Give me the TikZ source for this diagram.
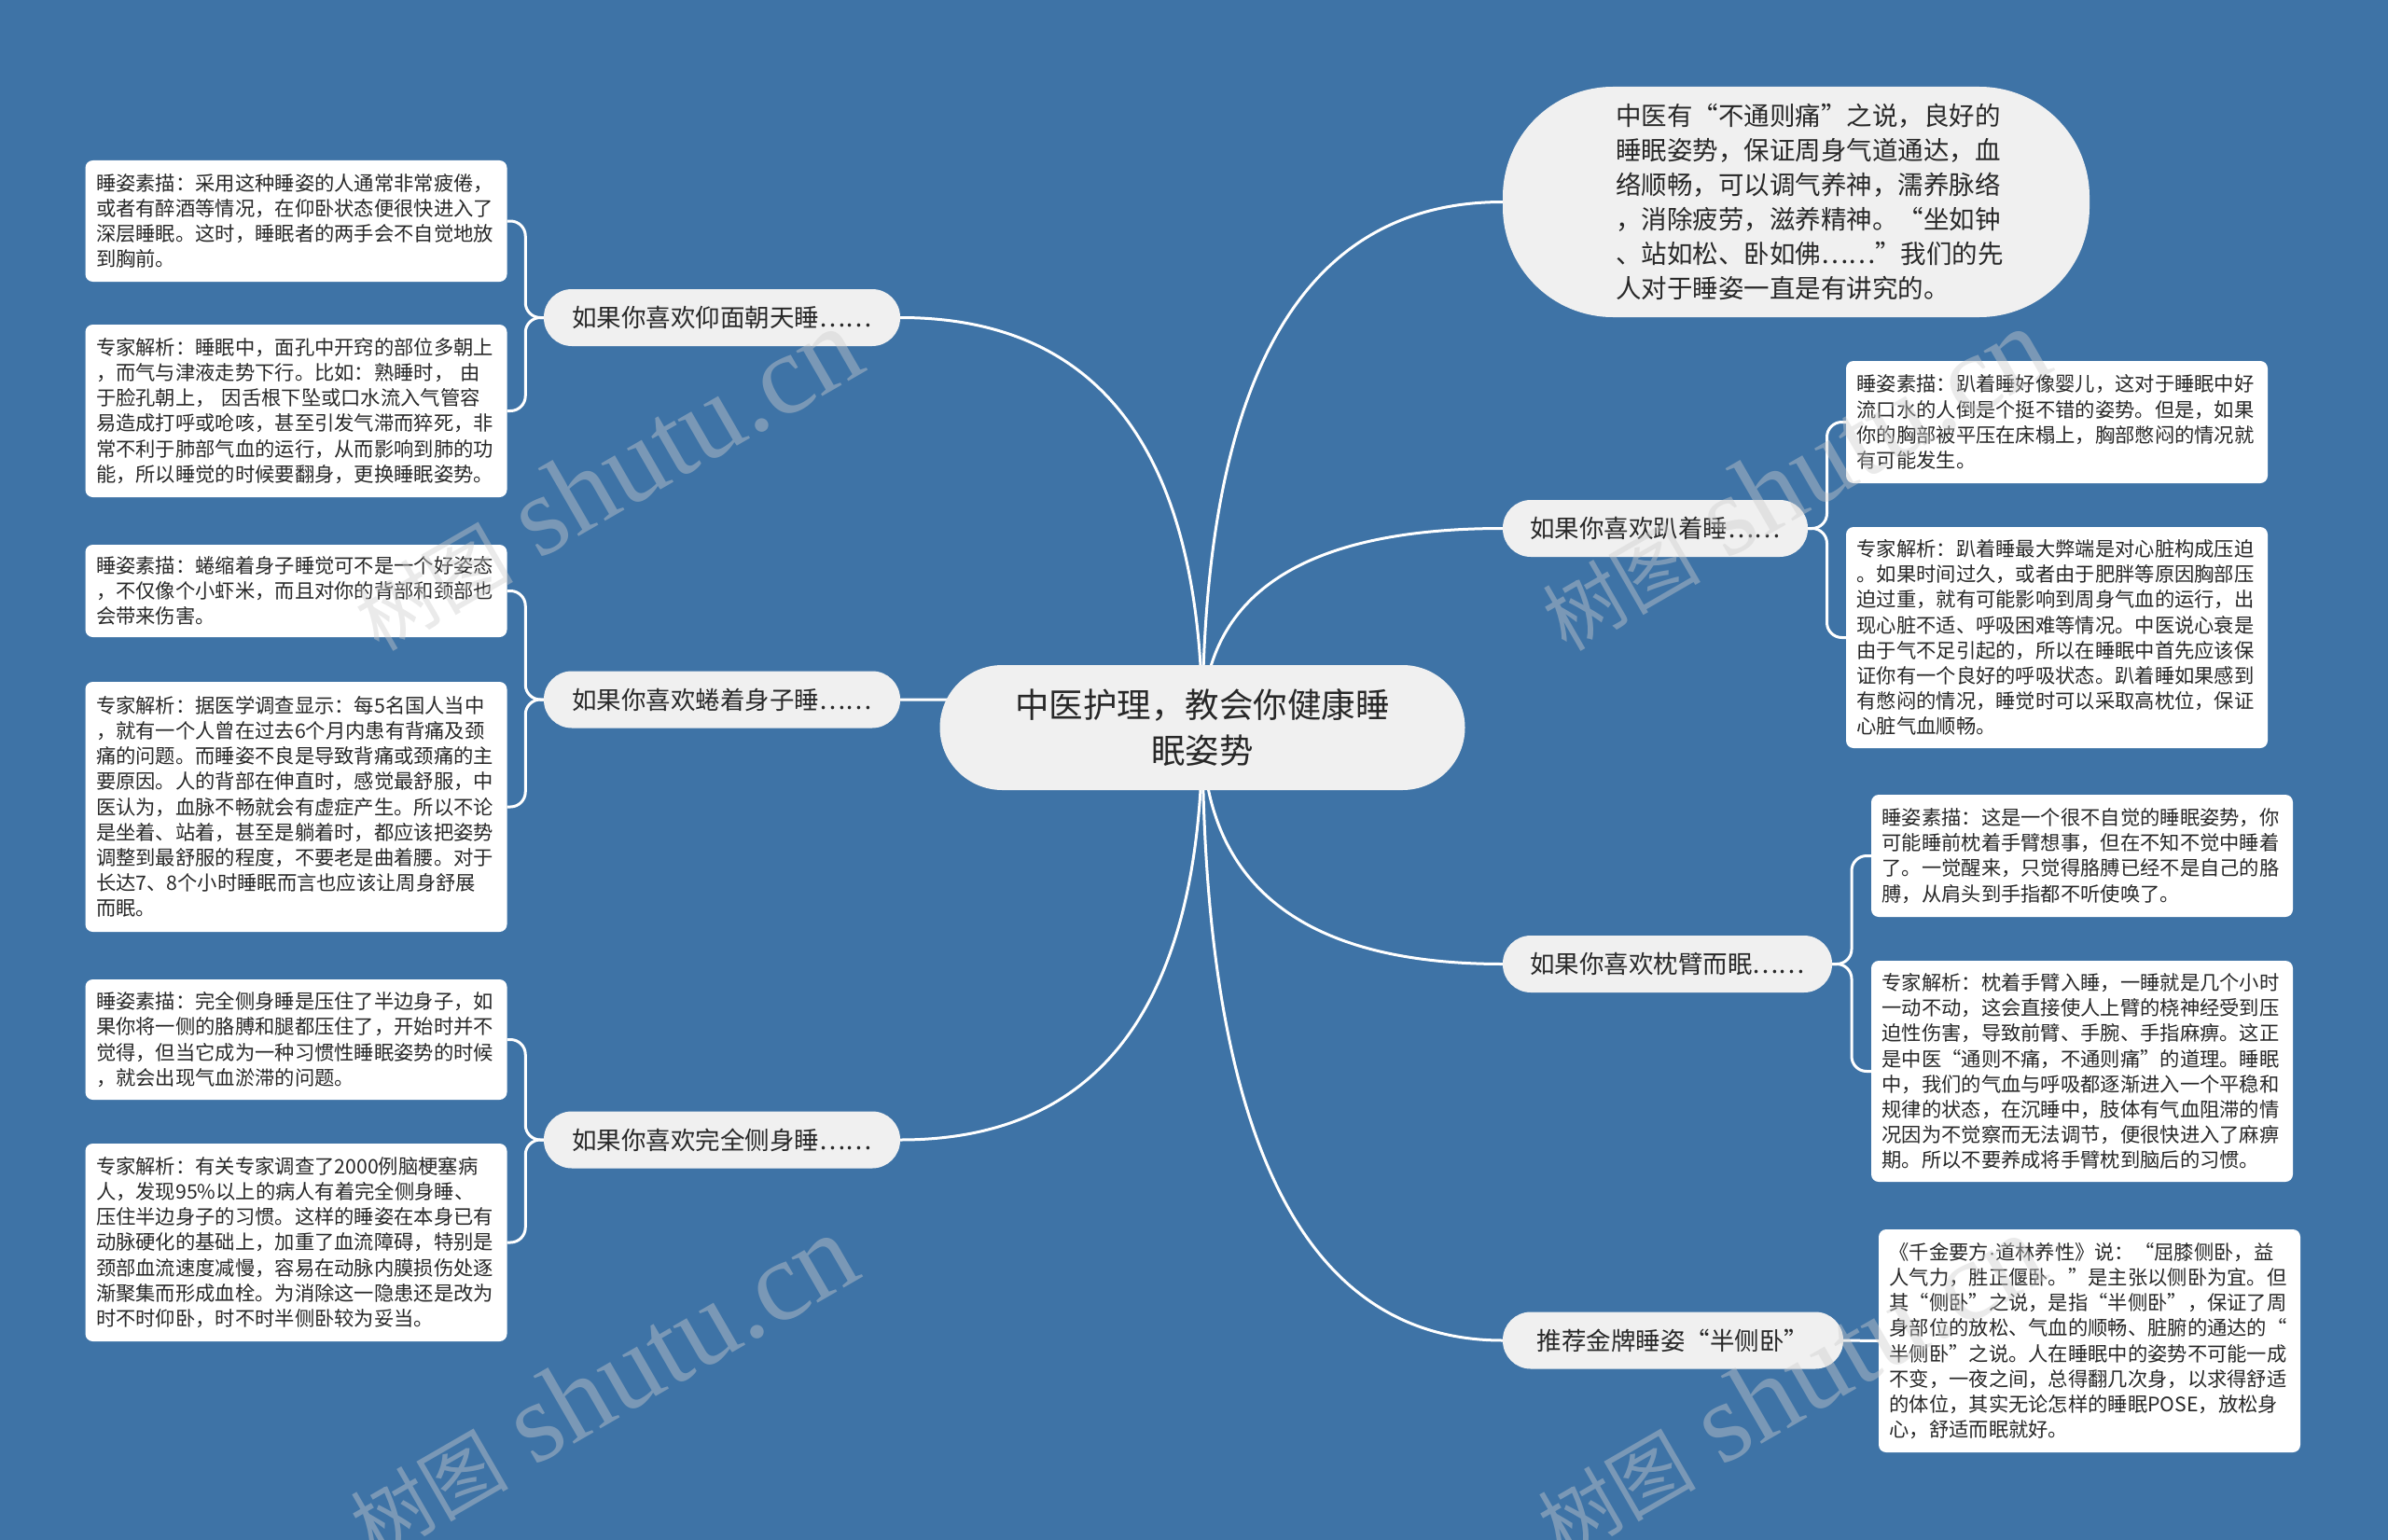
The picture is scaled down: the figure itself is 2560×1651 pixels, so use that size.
\documentclass[tikz,border=0pt]{standalone}
\usepackage{fontspec}
\newfontfamily\cjk{Noto Sans CJK SC}
\newfontfamily\wmserif{Liberation Serif}
\newfontfamily\latinsans{Liberation Sans}
\usetikzlibrary{calc,backgrounds}
\definecolor{bg}{RGB}{62,115,166}
\definecolor{nodegray}{RGB}{240,240,240}
\definecolor{txt}{RGB}{40,40,40}
\definecolor{wmc}{RGB}{205,205,205}
\begin{document}
\begin{tikzpicture}[x=1pt,y=-1pt,
  link/.style={draw=white,line width=3pt},
  mmcurve/.style={to path={.. controls ($(\tikztostart)!0.667!(\tikztostart|-\tikztotarget)$) and ($(\tikztotarget)!0.667!(\tikztostart|-\tikztotarget)$) .. (\tikztotarget)}},
  rootbox/.style={rectangle,rounded corners=67,fill=nodegray,minimum width=563,minimum height=134,align=center,text=txt,font=\cjk\fontsize{36.5}{49}\selectfont},
  introbox/.style={rectangle,rounded corners=118,fill=nodegray,minimum width=629,minimum height=247},
  introtext/.style={align=left,text=txt,inner sep=0,font=\cjk\fontsize{27.5}{37}\selectfont},
  branch/.style={rectangle,rounded corners=30,fill=nodegray,minimum height=61,inner xsep=0,text=txt,font=\cjk\fontsize{26.5}{32}\selectfont},
  leaf/.style={rectangle,rounded corners=8,fill=white,align=left,text width=429,inner xsep=11.5,inner ysep=0,text=txt,font=\cjk\fontsize{21.3}{27.2}\selectfont},
  wmark/.style={rotate=30,text=wmc,text opacity=0.42,inner sep=0}]
\useasboundingbox (0,0) rectangle (2560,1651);

% root and first level
\node[rootbox] (root) at (1289,780) {中医护理，教会你健康睡\\眠姿势};
\node[introbox] (intro) at (1925.5,216.5) {};
\node[introtext] (introtxt) at (1940,216.5) {中医有“不通则痛”之说，良好的\\睡眠姿势，保证周身气道通达，血\\络顺畅，可以调气养神，濡养脉络\\，消除疲劳，滋养精神。“坐如钟\\、站如松、卧如佛……”我们的先\\人对于睡姿一直是有讲究的。};

\node[branch,minimum width=382] (L1) at (774,340.5) {如果你喜欢仰面朝天睡……};
\node[branch,minimum width=382] (L2) at (774,750) {如果你喜欢蜷着身子睡……};
\node[branch,minimum width=382] (L3) at (774,1222) {如果你喜欢完全侧身睡……};
\node[branch,minimum width=327] (R1) at (1774.5,566.5) {如果你喜欢趴着睡……};
\node[branch,minimum width=353] (R2) at (1787.5,1033.5) {如果你喜欢枕臂而眠……};
\node[branch,minimum width=365] (R3) at (1793.5,1437) {推荐金牌睡姿“半侧卧”};

% leaves left
\node[leaf,minimum height=130] (LA1) at (317.5,237) {睡姿素描：采用这种睡姿的人通常非常疲倦，\\或者有醉酒等情况，在仰卧状态便很快进入了\\深层睡眠。这时，睡眠者的两手会不自觉地放\\到胸前。};
\node[leaf,minimum height=185] (LA2) at (317.5,440.5) {专家解析：睡眠中，面孔中开窍的部位多朝上\\，而气与津液走势下行。比如：熟睡时， 由\\于脸孔朝上， 因舌根下坠或口水流入气管容\\易造成打呼或呛咳，甚至引发气滞而猝死，非\\常不利于肺部气血的运行，从而影响到肺的功\\能，所以睡觉的时候要翻身，更换睡眠姿势。};
\node[leaf,minimum height=99] (LB1) at (317.5,633.5) {睡姿素描：蜷缩着身子睡觉可不是一个好姿态\\，不仅像个小虾米，而且对你的背部和颈部也\\会带来伤害。};
\node[leaf,minimum height=268] (LB2) at (317.5,865) {专家解析：据医学调查显示：每5名国人当中\\，就有一个人曾在过去6个月内患有背痛及颈\\痛的问题。而睡姿不良是导致背痛或颈痛的主\\要原因。人的背部在伸直时，感觉最舒服，中\\医认为，血脉不畅就会有虚症产生。所以不论\\是坐着、站着，甚至是躺着时，都应该把姿势\\调整到最舒服的程度，不要老是曲着腰。对于\\长达7、8个小时睡眠而言也应该让周身舒展\\而眠。};
\node[leaf,minimum height=129] (LC1) at (317.5,1114.5) {睡姿素描：完全侧身睡是压住了半边身子，如\\果你将一侧的胳膊和腿都压住了，开始时并不\\觉得，但当它成为一种习惯性睡眠姿势的时候\\，就会出现气血淤滞的问题。};
\node[leaf,minimum height=212] (LC2) at (317.5,1332) {专家解析：有关专家调查了2000例脑梗塞病\\人，发现95\%以上的病人有着完全侧身睡、\\压住半边身子的习惯。这样的睡姿在本身已有\\动脉硬化的基础上，加重了血流障碍，特别是\\颈部血流速度减慢，容易在动脉内膜损伤处逐\\渐聚集而形成血栓。为消除这一隐患还是改为\\时不时仰卧，时不时半侧卧较为妥当。};

% leaves right
\node[leaf,minimum height=131] (RA1) at (2205,452.5) {睡姿素描：趴着睡好像婴儿，这对于睡眠中好\\流口水的人倒是个挺不错的姿势。但是，如果\\你的胸部被平压在床榻上，胸部憋闷的情况就\\有可能发生。};
\node[leaf,minimum height=237] (RA2) at (2205,683.5) {专家解析：趴着睡最大弊端是对心脏构成压迫\\。如果时间过久，或者由于肥胖等原因胸部压\\迫过重，就有可能影响到周身气血的运行，出\\现心脏不适、呼吸困难等情况。中医说心衰是\\由于气不足引起的，所以在睡眠中首先应该保\\证你有一个良好的呼吸状态。趴着睡如果感到\\有憋闷的情况，睡觉时可以采取高枕位，保证\\心脏气血顺畅。};
\node[leaf,minimum height=131] (RB1) at (2232,917.5) {睡姿素描：这是一个很不自觉的睡眠姿势，你\\可能睡前枕着手臂想事，但在不知不觉中睡着\\了。一觉醒来，只觉得胳膊已经不是自己的胳\\膊，从肩头到手指都不听使唤了。};
\node[leaf,minimum height=237] (RB2) at (2232,1148.5) {专家解析：枕着手臂入睡，一睡就是几个小时\\一动不动，这会直接使人上臂的桡神经受到压\\迫性伤害，导致前臂、手腕、手指麻痹。这正\\是中医“通则不痛，不通则痛”的道理。睡眠\\中，我们的气血与呼吸都逐渐进入一个平稳和\\规律的状态，在沉睡中，肢体有气血阻滞的情\\况因为不觉察而无法调节，便很快进入了麻痹\\期。所以不要养成将手臂枕到脑后的习惯。};
\node[leaf,minimum height=239] (RC) at (2240,1437.5) {《千金要方{\latinsans ·}道林养性》说：“屈膝侧卧，益\\人气力，胜正偃卧。”是主张以侧卧为宜。但\\其“侧卧”之说，是指“半侧卧”，保证了周\\身部位的放松、气血的顺畅、脏腑的通达的“\\半侧卧”之说。人在睡眠中的姿势不可能一成\\不变，一夜之间，总得翻几次身，以求得舒适\\的体位，其实无论怎样的睡眠POSE，放松身\\心，舒适而眠就好。};

% background and connectors
\begin{scope}[on background layer]
  \fill[bg] (0,0) rectangle (2560,1651);
  \draw[link] (root.center) to[mmcurve] (intro.west);
  \draw[link] (root.center) to[mmcurve] (R1.west);
  \draw[link] (root.center) to[mmcurve] (R2.west);
  \draw[link] (root.center) to[mmcurve] (R3.west);
  \draw[link] (root.center) to[mmcurve] (L1.east);
  \draw[link] (root.center) to[mmcurve] (L2.east);
  \draw[link] (root.center) to[mmcurve] (L3.east);
  \draw[link,rounded corners=16] (L1.west) -| ($(L1.west)!0.5!(LA1.east)$) |- (LA1.east);
  \draw[link,rounded corners=16] (L1.west) -| ($(L1.west)!0.5!(LA2.east)$) |- (LA2.east);
  \draw[link,rounded corners=16] (L2.west) -| ($(L2.west)!0.5!(LB1.east)$) |- (LB1.east);
  \draw[link,rounded corners=16] (L2.west) -| ($(L2.west)!0.5!(LB2.east)$) |- (LB2.east);
  \draw[link,rounded corners=16] (L3.west) -| ($(L3.west)!0.5!(LC1.east)$) |- (LC1.east);
  \draw[link,rounded corners=16] (L3.west) -| ($(L3.west)!0.5!(LC2.east)$) |- (LC2.east);
  \draw[link,rounded corners=16] (R1.east) -| ($(R1.east)!0.5!(RA1.west)$) |- (RA1.west);
  \draw[link,rounded corners=16] (R1.east) -| ($(R1.east)!0.5!(RA2.west)$) |- (RA2.west);
  \draw[link,rounded corners=16] (R2.east) -| ($(R2.east)!0.5!(RB1.west)$) |- (RB1.west);
  \draw[link,rounded corners=16] (R2.east) -| ($(R2.east)!0.5!(RB2.west)$) |- (RB2.west);
  \draw[link] (R3.east) -- (RC.west);
\end{scope}

% watermarks
\node[wmark] (wm1) at (650,514) {{\cjk\fontsize{85}{85}\selectfont 树图}\hspace{28pt}{\wmserif\fontsize{122}{122}\selectfont shutu.cn}};
\node[wmark] (wm2) at (645,1486) {{\cjk\fontsize{85}{85}\selectfont 树图}\hspace{28pt}{\wmserif\fontsize{122}{122}\selectfont shutu.cn}};
\node[wmark] (wm3) at (1923,514) {{\cjk\fontsize{85}{85}\selectfont 树图}\hspace{28pt}{\wmserif\fontsize{122}{122}\selectfont shutu.cn}};
\node[wmark] (wm4) at (1918,1486) {{\cjk\fontsize{85}{85}\selectfont 树图}\hspace{28pt}{\wmserif\fontsize{122}{122}\selectfont shutu.cn}};
\end{tikzpicture}
\end{document}
